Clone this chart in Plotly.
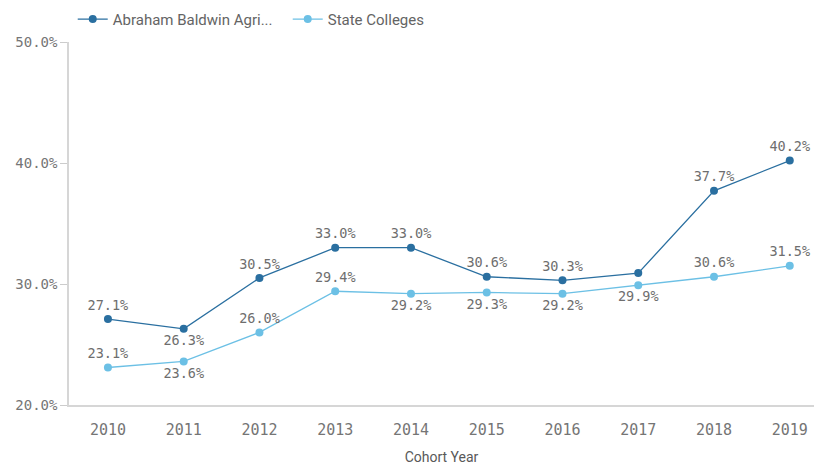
import plotly.graph_objects as go

years = [2010, 2011, 2012, 2013, 2014, 2015, 2016, 2017, 2018, 2019]
abac = [27.1, 26.3, 30.5, 33.0, 33.0, 30.6, 30.3, 30.9, 37.7, 40.2]
abac_labels = ["27.1%", "26.3%", "30.5%", "33.0%", "33.0%", "30.6%", "30.3%", "", "37.7%", "40.2%"]
abac_pos = ["top center", "bottom center", "top center", "top center", "top center",
            "top center", "top center", "top center", "top center", "top center"]
state = [23.1, 23.6, 26.0, 29.4, 29.2, 29.3, 29.2, 29.9, 30.6, 31.5]
state_labels = ["23.1%", "23.6%", "26.0%", "29.4%", "29.2%", "29.3%", "29.2%", "29.9%", "30.6%", "31.5%"]
state_pos = ["top center", "bottom center", "top center", "top center", "bottom center",
             "bottom center", "bottom center", "bottom center", "top center", "top center"]
y_ticks = [20, 30, 40, 50]
y_tick_labels = ["20.0%", "30.0%", "40.0%", "50.0%"]

dark = "#2a6fa0"
light = "#6cc0e5"
mono = "DejaVu Sans Mono"
gray = "#6e6e6e"

fig = go.Figure()
fig.add_trace(go.Scatter(
    x=years, y=abac, name="Abraham Baldwin Agri...", mode="lines+markers+text",
    line=dict(color=dark, width=1.3), marker=dict(color=dark, size=8),
    text=abac_labels, textposition=abac_pos,
    textfont=dict(family=mono, size=13.5, color=gray), cliponaxis=False))
fig.add_trace(go.Scatter(
    x=years, y=state, name="State Colleges", mode="lines+markers+text",
    line=dict(color=light, width=1.3), marker=dict(color=light, size=8),
    text=state_labels, textposition=state_pos,
    textfont=dict(family=mono, size=13.5, color=gray), cliponaxis=False))

fig.update_layout(
    width=814, height=465,
    margin=dict(l=69, r=0, t=42, b=60),
    plot_bgcolor="white", paper_bgcolor="white",
    showlegend=True,
    legend=dict(orientation="h", x=0.005, y=1.017, xanchor="left", yanchor="bottom",
                font=dict(family="Roboto", size=15, color="#646464"),
                itemwidth=30, entrywidth=170, entrywidthmode="pixels"),
    xaxis=dict(range=[2009.486, 2019.32], tickmode="array", tickvals=years,
               ticktext=[str(y) for y in years], showgrid=False, zeroline=False,
               showline=True, linecolor="#d6d6d6", linewidth=1.5,
               ticks="outside", ticklen=10, tickcolor="rgba(0,0,0,0)",
               tickfont=dict(family=mono, size=15, color="#757575"),
               title=dict(text="Cohort Year", font=dict(family="Roboto", size=14, color="#595959"),
                          standoff=14)),
    yaxis=dict(range=[20, 50], tickmode="array", tickvals=y_ticks, ticktext=y_tick_labels,
               showgrid=False, zeroline=False, showline=True, linecolor="#d6d6d6",
               linewidth=1.5, ticks="outside", ticklen=7, tickcolor="#cccccc",
               tickfont=dict(family=mono, size=14, color="#757575")),
)

fig.write_html("out.html")
